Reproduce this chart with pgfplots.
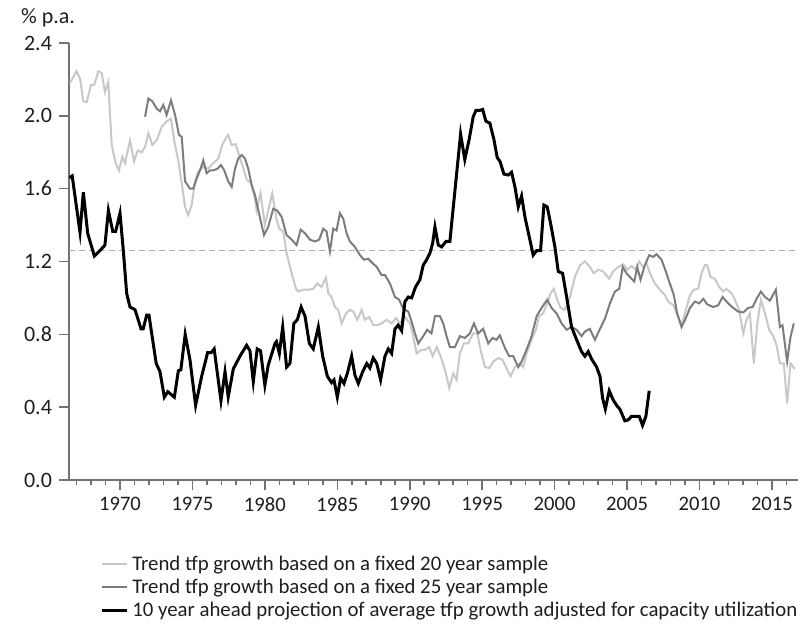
\documentclass[border=0pt]{standalone}
\usepackage{fontspec}
\setmainfont{Carlito}
\usepackage{pgfplots}
\pgfplotsset{compat=1.18}
\definecolor{lightg}{RGB}{200,200,200}
\definecolor{darkg}{RGB}{125,125,125}
\definecolor{axisg}{RGB}{115,115,115}
\definecolor{dashg}{RGB}{175,175,175}
\definecolor{txt}{RGB}{30,30,30}
\begin{document}
\begin{tikzpicture}
\useasboundingbox (-34.5pt,-72pt) rectangle (364.5pt,240pt);
\begin{axis}[
  at={(0pt,0pt)}, anchor=south west,
  width=364.5pt, height=218.5pt, scale only axis,
  xmin=1966.48, xmax=2016.8, ymin=0, ymax=2.4,
  axis x line*=bottom, axis y line*=left,
  axis line style={axisg, line width=1pt},
  xtick={1970,1975,...,2015},
  minor xtick={1967,1968,...,2016},
  ytick={0,0.4,0.8,1.2,1.6,2.0,2.4},
  tick align=outside,
  major tick length=5pt, minor tick length=2.5pt,
  every tick/.style={axisg, line width=0.8pt},
  xticklabel style={/pgf/number format/1000 sep={}, font=\fontsize{10.3}{12}\selectfont},
  yticklabel style={/pgf/number format/.cd, fixed, fixed zerofill, precision=1},
  /pgf/number format/assume math mode=true,
  tick label style={font=\fontsize{11}{12}\selectfont, text=txt},
  legend style={at={(axis description cs:0.0425,-0.163)}, anchor=north west,
    draw=none, fill=none, inner sep=0pt,
    font=\fontsize{10.4}{11}\selectfont, text=txt,
    row sep=-1.2pt, cells={anchor=west},
    /tikz/every even column/.style={column sep=3pt}},
  legend image code/.code={\draw[#1] (0pt,0pt) -- (12.5pt,0pt);},
]
\addplot[dashg, line width=0.6pt, dash pattern=on 3pt off 2pt, forget plot] coordinates {(1966.48,1.26) (2016.8,1.26)};

\addplot[lightg, line width=1pt] coordinates {
(1966.55,2.18) (1967.0,2.245) (1967.24,2.205) (1967.47,2.08) (1967.7,2.075) (1968.0,2.17)
(1968.23,2.17) (1968.5,2.245) (1968.74,2.235) (1968.96,2.13) (1969.19,2.185) (1969.43,1.84)
(1969.7,1.74) (1969.93,1.70) (1970.16,1.775) (1970.35,1.74) (1970.69,1.865) (1970.97,1.75)
(1971.22,1.81) (1971.5,1.80) (1971.73,1.83) (1971.96,1.905) (1972.23,1.84) (1972.53,1.865)
(1972.88,1.94) (1973.22,1.97) (1973.52,1.985) (1973.75,1.86) (1974.03,1.75) (1974.26,1.63)
(1974.49,1.50) (1974.71,1.455) (1974.95,1.51) (1975.18,1.64) (1975.4,1.695) (1975.75,1.72)
(1976.09,1.71) (1976.44,1.74) (1976.78,1.765) (1977.06,1.84) (1977.29,1.875) (1977.47,1.895)
(1977.71,1.84) (1977.98,1.845) (1978.21,1.785) (1978.44,1.73) (1978.74,1.65) (1979.04,1.63)
(1979.32,1.545) (1979.43,1.48) (1979.7,1.575) (1980.0,1.40) (1980.23,1.48) (1980.51,1.575)
(1980.81,1.43) (1981.0,1.38) (1981.27,1.365) (1981.5,1.245) (1981.85,1.135) (1982.15,1.05)
(1982.3,1.035) (1982.65,1.045) (1982.99,1.045) (1983.34,1.05) (1983.62,1.08) (1983.91,1.06)
(1984.22,1.11) (1984.38,1.025) (1984.6,1.005) (1984.84,0.95) (1985.06,0.935) (1985.3,0.86)
(1985.6,0.915) (1985.87,0.935) (1986.1,0.925) (1986.38,0.88) (1986.68,0.935) (1986.9,0.88)
(1987.2,0.895) (1987.48,0.85) (1987.76,0.85) (1988.06,0.86) (1988.4,0.88) (1988.75,0.86)
(1989.05,0.89) (1989.32,0.86) (1989.67,0.895) (1990.01,0.86) (1990.24,0.79) (1990.47,0.695)
(1990.82,0.715) (1991.05,0.715) (1991.35,0.73) (1991.58,0.68) (1991.86,0.73) (1992.13,0.68)
(1992.43,0.605) (1992.73,0.505) (1993.0,0.585) (1993.23,0.55) (1993.46,0.695) (1993.74,0.75)
(1994.03,0.75) (1994.38,0.805) (1994.66,0.805) (1994.89,0.715) (1995.19,0.62) (1995.49,0.615)
(1995.76,0.65) (1996.11,0.67) (1996.41,0.66) (1996.73,0.605) (1996.96,0.57) (1997.26,0.62)
(1997.56,0.64) (1997.83,0.62) (1998.06,0.695) (1998.41,0.77) (1998.71,0.825) (1998.93,0.90)
(1999.21,0.915) (1999.49,0.97) (1999.72,1.025) (1999.95,1.05) (2000.18,0.99) (2000.41,0.945)
(2000.71,0.935) (2001.06,1.005) (2001.4,1.115) (2001.75,1.18) (2002.09,1.20) (2002.44,1.17)
(2002.71,1.135) (2003.0,1.155) (2003.35,1.145) (2003.77,1.105) (2004.04,1.145) (2004.39,1.17)
(2004.74,1.185) (2005.01,1.155) (2005.31,1.175) (2005.61,1.155) (2005.84,1.20) (2006.11,1.17)
(2006.34,1.19) (2006.58,1.135) (2006.92,1.08) (2007.27,1.045) (2007.61,1.015) (2007.84,0.98)
(2008.19,0.96) (2008.53,0.895) (2008.76,0.85) (2009.06,0.935) (2009.34,1.015) (2009.61,1.045)
(2009.91,1.05) (2010.14,1.135) (2010.37,1.18) (2010.53,1.18) (2010.76,1.115) (2011.06,1.105)
(2011.36,1.06) (2011.63,1.035) (2011.86,1.05) (2012.21,1.025) (2012.44,0.99) (2012.73,0.935)
(2013.02,0.805) (2013.25,0.88) (2013.48,0.915) (2013.75,0.64) (2013.99,0.86) (2014.24,0.99)
(2014.52,0.915) (2014.81,0.825) (2015.09,0.79) (2015.32,0.74) (2015.55,0.64) (2015.82,0.64)
(2016.05,0.42) (2016.28,0.64) (2016.58,0.61)
};
\addlegendentry{Trend tfp growth based on a fixed 20 year sample}

\addplot[darkg, line width=1pt] coordinates {
(1971.73,1.995) (1971.96,2.095) (1972.23,2.08) (1972.53,2.04) (1972.76,2.025) (1972.99,2.06)
(1973.22,2.005) (1973.52,2.085) (1973.8,2.005) (1974.07,1.895) (1974.26,1.885) (1974.49,1.64)
(1974.83,1.60) (1975.06,1.60) (1975.29,1.655) (1975.52,1.70) (1975.75,1.755) (1975.98,1.685)
(1976.21,1.70) (1976.44,1.70) (1976.74,1.71) (1976.97,1.73) (1977.2,1.70) (1977.47,1.64)
(1977.71,1.61) (1977.94,1.71) (1978.16,1.765) (1978.4,1.785) (1978.63,1.765) (1978.85,1.71)
(1979.09,1.62) (1979.32,1.565) (1979.55,1.48) (1979.94,1.345) (1980.23,1.39) (1980.58,1.49)
(1980.85,1.48) (1981.16,1.445) (1981.5,1.345) (1981.85,1.32) (1982.19,1.29) (1982.47,1.375)
(1982.77,1.355) (1983.11,1.32) (1983.46,1.31) (1983.75,1.32) (1984.03,1.38) (1984.26,1.365)
(1984.49,1.255) (1984.72,1.38) (1984.95,1.37) (1985.18,1.465) (1985.41,1.435) (1985.64,1.355)
(1985.87,1.31) (1986.22,1.28) (1986.56,1.235) (1986.84,1.21) (1987.13,1.215) (1987.44,1.19)
(1987.72,1.17) (1988.06,1.125) (1988.29,1.125) (1988.63,1.08) (1988.98,1.005) (1989.27,0.99)
(1989.55,0.94) (1989.9,0.925) (1990.13,0.87) (1990.36,0.805) (1990.59,0.75) (1990.93,0.79)
(1991.2,0.825) (1991.5,0.805) (1991.74,0.90) (1992.08,0.90) (1992.31,0.86) (1992.54,0.79)
(1992.77,0.73) (1993.12,0.73) (1993.46,0.79) (1993.8,0.78) (1994.15,0.805) (1994.43,0.86)
(1994.72,0.805) (1995.07,0.83) (1995.42,0.75) (1995.71,0.78) (1995.99,0.77) (1996.22,0.795)
(1996.57,0.725) (1996.86,0.68) (1997.14,0.68) (1997.49,0.62) (1997.72,0.65) (1998.06,0.715)
(1998.41,0.79) (1998.76,0.90) (1999.1,0.945) (1999.49,0.99) (1999.79,0.945) (2000.14,0.915)
(2000.48,0.86) (2000.83,0.825) (2001.17,0.84) (2001.52,0.825) (2001.86,0.79) (2002.09,0.815)
(2002.43,0.83) (2002.78,0.77) (2003.13,0.83) (2003.47,0.885) (2003.82,0.97) (2004.16,1.035)
(2004.46,1.05) (2004.7,1.17) (2004.96,1.135) (2005.31,1.105) (2005.5,1.09) (2005.7,1.17)
(2005.93,1.10) (2006.23,1.18) (2006.53,1.235) (2006.8,1.225) (2007.03,1.24) (2007.38,1.21)
(2007.72,1.135) (2007.95,1.08) (2008.23,1.015) (2008.46,0.915) (2008.76,0.84) (2009.06,0.89)
(2009.34,0.945) (2009.68,0.98) (2009.98,0.97) (2010.26,0.995) (2010.53,0.965) (2010.95,0.95)
(2011.29,0.96) (2011.6,1.005) (2011.98,0.97) (2012.33,0.945) (2012.67,0.925) (2013.02,0.92)
(2013.36,0.945) (2013.67,0.95) (2013.94,0.995) (2014.24,1.035) (2014.52,1.005) (2014.86,0.985)
(2015.27,1.045) (2015.55,0.84) (2015.73,0.85) (2016.05,0.65) (2016.28,0.785) (2016.51,0.86)
};
\addlegendentry{Trend tfp growth based on a fixed 25 year sample}

\addplot[black, line width=1.5pt] coordinates {
(1966.5,1.66) (1966.7,1.67) (1967.24,1.36) (1967.47,1.58) (1967.77,1.355) (1968.23,1.23)
(1968.62,1.26) (1968.96,1.29) (1969.2,1.48) (1969.5,1.365) (1969.7,1.365) (1970.0,1.465)
(1970.23,1.26) (1970.46,1.025) (1970.69,0.95) (1971.04,0.935) (1971.45,0.83) (1971.6,0.83)
(1971.84,0.905) (1972.0,0.905) (1972.5,0.64) (1972.76,0.595) (1973.06,0.455) (1973.3,0.485)
(1973.75,0.455) (1974.03,0.60) (1974.2,0.605) (1974.5,0.80) (1974.83,0.66) (1975.22,0.41)
(1975.64,0.57) (1976.05,0.70) (1976.3,0.70) (1976.5,0.72) (1976.97,0.435) (1977.25,0.595)
(1977.47,0.455) (1977.82,0.61) (1978.28,0.68) (1978.74,0.74) (1978.97,0.71) (1979.2,0.54)
(1979.47,0.72) (1979.7,0.71) (1980.0,0.52) (1980.23,0.63) (1980.7,0.75) (1980.8,0.76)
(1981.0,0.695) (1981.23,0.84) (1981.5,0.62) (1981.73,0.64) (1982.0,0.86) (1982.24,0.88)
(1982.5,0.95) (1982.77,0.90) (1983.07,0.75) (1983.34,0.72) (1983.69,0.84) (1983.99,0.68)
(1984.31,0.57) (1984.6,0.535) (1984.77,0.55) (1985.0,0.455) (1985.23,0.56) (1985.46,0.53)
(1985.69,0.585) (1985.99,0.68) (1986.22,0.575) (1986.45,0.53) (1986.75,0.595) (1987.03,0.64)
(1987.25,0.615) (1987.48,0.67) (1987.72,0.64) (1987.99,0.55) (1988.29,0.68) (1988.52,0.72)
(1988.75,0.695) (1988.98,0.83) (1989.2,0.85) (1989.44,0.82) (1989.67,0.98) (1989.9,1.005)
(1990.13,1.00) (1990.4,1.06) (1990.7,1.10) (1990.93,1.18) (1991.17,1.21) (1991.39,1.245)
(1991.58,1.30) (1991.74,1.39) (1991.97,1.29) (1992.2,1.28) (1992.5,1.31) (1992.77,1.31)
(1993.12,1.59) (1993.51,1.90) (1993.8,1.76) (1994.1,1.87) (1994.38,1.995) (1994.57,2.03)
(1994.84,2.03) (1995.03,2.035) (1995.26,1.97) (1995.53,1.96) (1995.81,1.87) (1996.04,1.77)
(1996.23,1.75) (1996.5,1.68) (1996.8,1.675) (1997.03,1.69) (1997.26,1.61) (1997.49,1.50)
(1997.72,1.56) (1997.95,1.445) (1998.25,1.335) (1998.52,1.235) (1998.76,1.26) (1999.03,1.26)
(1999.26,1.51) (1999.49,1.50) (1999.72,1.41) (2000.02,1.28) (2000.25,1.145) (2000.55,1.135)
(2000.83,1.005) (2001.17,0.84) (2001.52,0.77) (2001.86,0.705) (2002.09,0.68) (2002.32,0.705)
(2002.55,0.665) (2002.9,0.62) (2003.13,0.57) (2003.31,0.45) (2003.5,0.39) (2003.77,0.49)
(2004.04,0.44) (2004.32,0.405) (2004.5,0.39) (2004.85,0.325) (2005.08,0.33) (2005.31,0.35)
(2005.66,0.35) (2005.84,0.35) (2006.07,0.30) (2006.3,0.35) (2006.53,0.49)
};
\addlegendentry{10 year ahead projection of average tfp growth adjusted for capacity utilization}
\end{axis}
\node[anchor=west, font=\fontsize{11}{12}\selectfont, text=txt] at (-27.5pt,231pt) {\% p.a.};
\end{tikzpicture}
\end{document}
